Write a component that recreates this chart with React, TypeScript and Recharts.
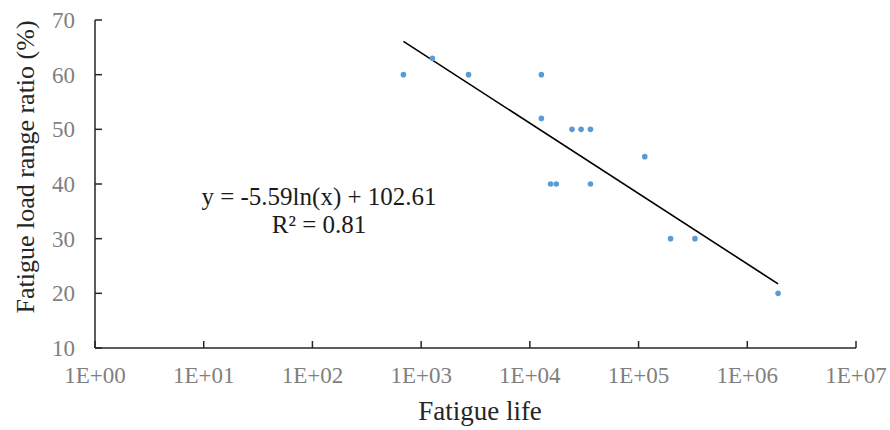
import React from 'react';
import { ScatterChart, Scatter, XAxis, YAxis, Label } from 'recharts';

// fatigue tests: cycles to failure vs. load range ratio
const lifeCycles = [687, 1270, 2730, 12760, 12760, 24400, 29600, 36100, 15500, 17500, 36100, 114000, 197000, 330000, 1920000];
const loadRatio = [60, 63, 60, 60, 52, 50, 50, 50, 40, 40, 40, 45, 30, 30, 20];

const xTicks = [1, 10, 100, 1000, 10000, 100000, 1000000, 10000000];
const yTicks = [10, 20, 30, 40, 50, 60, 70];

// logarithmic trendline y = a ln(x) + b
const trendA = -5.59;
const trendB = 102.61;
const trendR2 = 0.81;

const points = lifeCycles.map((x, i) => ({ x, y: loadRatio[i] }));
const trendEnds = [Math.min(...lifeCycles), Math.max(...lifeCycles)];
const trendData = trendEnds.map(x => ({ x, y: trendA * Math.log(x) + trendB }));

const FONT = '"Liberation Serif", "Times New Roman", serif';
const AXIS = '#262626';
const TICK_TEXT = '#7f7f7f';

const formatExp = (v: number) => `1E+${String(Math.round(Math.log10(v))).padStart(2, '0')}`;

const XTick = (props: any) => {
  const { x, y, payload } = props;
  return (
    <g>
      <line x1={x} x2={x} y1={y} y2={y - 7} stroke={AXIS} strokeWidth={1.5} />
      <text x={x} y={y + 35} textAnchor="middle" fontSize={23} fill={TICK_TEXT} fontFamily={FONT}>
        {formatExp(payload.value)}
      </text>
    </g>
  );
};

const YTick = (props: any) => {
  const { x, y, payload } = props;
  return (
    <g>
      <line x1={x} x2={x + 7} y1={y} y2={y} stroke={AXIS} strokeWidth={1.5} />
      <text x={x - 20} y={y + 8} textAnchor="end" fontSize={23} fill={TICK_TEXT} fontFamily={FONT}>
        {payload.value}
      </text>
    </g>
  );
};

export default function App() {
  return (
    <div style={{ position: 'absolute', left: 0, top: 0, width: 890, height: 430, background: '#fff' }}>
      <ScatterChart width={890} height={430} margin={{ top: 20, right: 34, left: 0, bottom: 0 }}>
        <XAxis
          dataKey="x"
          type="number"
          scale="log"
          domain={[1, 10000000]}
          ticks={xTicks}
          interval={0}
          height={82}
          tickSize={0}
          tickMargin={0}
          tickLine={false}
          tick={<XTick />}
          axisLine={{ stroke: AXIS, strokeWidth: 1.5 }}
          allowDataOverflow
        >
          <Label
            content={() => (
              <text x={480} y={420} textAnchor="middle" fontSize={27} fill={AXIS} fontFamily={FONT}>
                Fatigue life
              </text>
            )}
          />
        </XAxis>
        <YAxis
          dataKey="y"
          type="number"
          domain={[10, 70]}
          ticks={yTicks}
          interval={0}
          width={95}
          tickSize={0}
          tickMargin={0}
          tickLine={false}
          tick={<YTick />}
          axisLine={{ stroke: AXIS, strokeWidth: 1.5 }}
        >
          <Label
            content={() => (
              <text
                x={25}
                y={167}
                transform="rotate(-90 25 167)"
                textAnchor="middle"
                dominantBaseline="central"
                fontSize={26}
                fill={AXIS}
                fontFamily={FONT}
              >
                Fatigue load range ratio (%)
              </text>
            )}
          />
        </YAxis>
        <Scatter
          data={trendData}
          line={{ stroke: '#000000', strokeWidth: 1.6 }}
          shape={() => <g />}
          isAnimationActive={false}
          legendType="none"
        />
        <Scatter
          data={points}
          fill="#5b9bd5"
          isAnimationActive={false}
          shape={(p: any) => <circle cx={p.cx} cy={p.cy} r={2.8} fill="#5b9bd5" />}
        />
      </ScatterChart>
      <svg width={890} height={430} style={{ position: 'absolute', left: 0, top: 0, pointerEvents: 'none' }}>
        <text x={319} y={205} textAnchor="middle" fontSize={25} fill="#1a1a1a" fontFamily={FONT}>
          {`y = ${trendA}ln(x) + ${trendB}`}
        </text>
        <text x={319} y={233} textAnchor="middle" fontSize={25} fill="#1a1a1a" fontFamily={FONT}>
          {`R² = ${trendR2}`}
        </text>
      </svg>
    </div>
  );
}
